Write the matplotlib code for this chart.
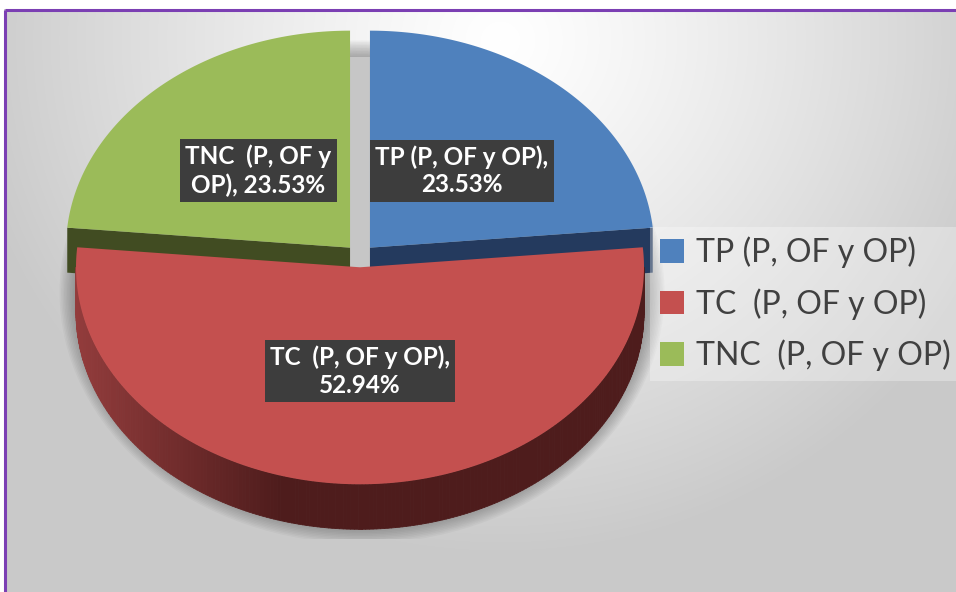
import textwrap
import numpy as np
import matplotlib.pyplot as plt
from matplotlib.patches import Polygon, Ellipse, Rectangle, Patch
from matplotlib.collections import PolyCollection
from matplotlib.colors import to_rgb

plt.rcParams['font.family'] = ['Lato', 'DejaVu Sans']

# slices, clockwise from 12 o'clock
labels = ['TP (P, OF y OP)', 'TC  (P, OF y OP)', 'TNC  (P, OF y OP)']
values = [23.53, 52.94, 23.53]
wrap_widths = [16, 17, 13]
top_colors = ['#4f81bd', '#c4504f', '#9bbb59']
side_colors = ['#243a5e', '#4e1c1c', '#414c22']

W, H = 956, 592
fig = plt.figure(figsize=(W / 100, H / 100), dpi=100)
ax = fig.add_axes([0, 0, 1, 1])
ax.set_xlim(0, W)
ax.set_ylim(H, 0)
ax.axis('off')

# soft radial background, white near the top
yy, xx = np.mgrid[0:H, 0:W]
r = np.hypot(xx - 500, (yy - 40) * 1.05)
shade = 1 - 0.21 * np.clip(r / 540, 0, 1) ** 1.2
bg = np.dstack([shade] * 3)
bg[:9, :] = 1
bg[:, :4] = 1
ax.imshow(bg, extent=(0, W, H, 0), zorder=0, interpolation='bilinear')
ax.plot([5, W], [10, 10], color='#7b3fb3', lw=2.2, zorder=10, solid_capstyle='butt')
ax.plot([5, 5], [10, H], color='#7b3fb3', lw=2.2, zorder=10, solid_capstyle='butt')

# 3d pie geometry (pixel space)
cx0, cy0 = 360, 256
a, b = 284, 217
depth = 45
explode = 0.052

edges = np.concatenate([[0], np.cumsum(values)]) / np.sum(values) * 360


def rim(cx, cy, th):
    t = np.radians(th)
    return cx + a * np.sin(t), cy - b * np.cos(t)


# drop shadow under the whole pie
clip = Rectangle((0, 0), W, 539, transform=ax.transData)
for k in range(12):
    e = Ellipse((cx0 + 2, cy0 + 36), 2 * a + 4 + 3 * k, 2 * b + 36 + 3 * k,
                fc='#555555', ec='none', alpha=0.05, zorder=1)
    ax.add_patch(e)
    e.set_clip_path(clip)

centers = []
for i in range(len(values)):
    t0, t1 = edges[i], edges[i + 1]
    mid = np.radians((t0 + t1) / 2)
    cx = cx0 + explode * a * np.sin(mid)
    cy = cy0 - explode * b * np.cos(mid)
    centers.append((cx, cy))

# shadow visible through the gap between the upper slices
gx0 = centers[2][0]
gx1 = centers[0][0]
ax.add_patch(Rectangle((gx0, cy0 - b + 18), gx1 - gx0, b, fc='#c6c6c6', ec='none', zorder=1.5))

dark = np.array(to_rgb('#4e1c1c'))
light = np.array(to_rgb('#933c3c'))

for i in range(len(values)):
    t0, t1 = edges[i], edges[i + 1]
    cx, cy = centers[i]
    # radial cut faces turned toward the viewer
    for th, show in ((t1, 0 < t1 < 180), (t0, 180 < t0 < 360)):
        if show:
            x, y = rim(cx, cy, th)
            ax.add_patch(Polygon([(cx, cy), (x, y), (x, y + depth), (cx, cy + depth)],
                                 closed=True, fc=side_colors[i], ec='none', zorder=2))
    # outer wall on the front half
    lo, hi = max(t0, 90), min(t1, 270)
    if hi > lo:
        ths = np.linspace(lo, hi, 240)
        quads, cols = [], []
        for p, q in zip(ths[:-1], ths[1:]):
            x0, y0 = rim(cx, cy, p)
            x1, y1 = rim(cx, cy, q)
            quads.append([(x0, y0), (x1, y1), (x1, y1 + depth), (x0, y0 + depth)])
            if i == 1:
                f = np.clip(((x0 + x1) / 2 - (cx - a)) / (0.36 * 2 * a), 0, 1)
                cols.append(light * (1 - f) + dark * f)
            else:
                cols.append(to_rgb(side_colors[i]))
        ax.add_collection(PolyCollection(quads, facecolors=cols, edgecolors=cols,
                                         linewidths=0.6, zorder=2.5))

for i in range(len(values)):
    t0, t1 = edges[i], edges[i + 1]
    cx, cy = centers[i]
    ths = np.linspace(t0, t1, 200)
    xs, ys = rim(cx, cy, ths)
    pts = [(cx, cy)] + list(zip(xs, ys))
    ax.add_patch(Polygon(pts, closed=True, fc=top_colors[i], ec='none', zorder=3))

    # data label
    mid = np.radians((t0 + t1) / 2)
    lx = cx + 0.48 * a * np.sin(mid)
    ly = cy - 0.48 * b * np.cos(mid)
    txt = textwrap.fill(f'{labels[i]}, {values[i]:.2f}%', wrap_widths[i])
    lab = ax.text(lx, ly, txt, ha='center', va='center', multialignment='center',
                  fontsize=17.5, fontweight='bold', color='white', linespacing=1.25, zorder=5,
                  bbox=dict(boxstyle='square,pad=0.22', fc='#3d3d3d', ec='none'))
    lab.get_bbox_patch().set_path_effects([])

handles = [Patch(fc=c, ec='none') for c in top_colors]
leg = ax.legend(handles, labels, loc='upper left', bbox_to_anchor=(650 / W, 1 - 227 / H),
                frameon=True, facecolor='white', framealpha=0.3, edgecolor='none',
                fancybox=False, fontsize=23, handlelength=0.75, handleheight=0.75,
                handletextpad=0.4, labelspacing=0.62, borderpad=0.3, borderaxespad=0)
for t in leg.get_texts():
    t.set_color('#404040')
leg.set_zorder(6)

fig.savefig('out.png', dpi=100)
